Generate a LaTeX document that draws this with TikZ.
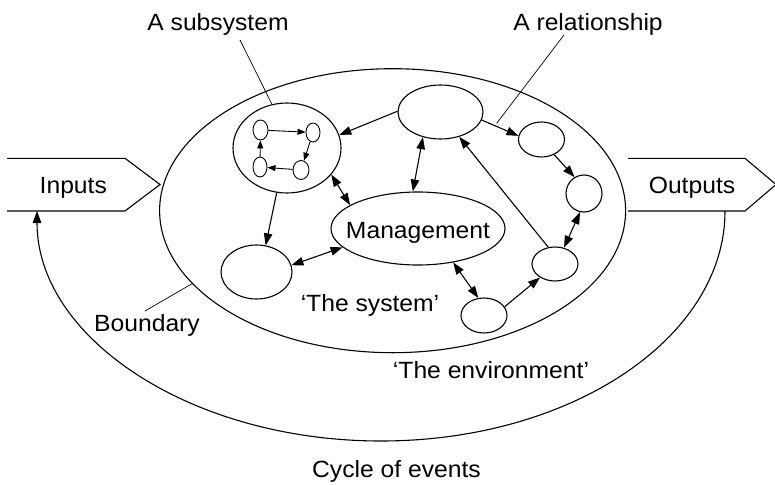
\documentclass[tikz,border=0pt]{standalone}
\usepackage{fontspec}
\setmainfont{Liberation Sans}[FakeStretch=1.05]
\usetikzlibrary{arrows.meta,shapes.geometric}
\begin{document}
\begin{tikzpicture}[x=1pt,y=-1pt,
  el/.style={draw,ellipse,inner sep=0pt,line width=1.1pt},
  conn/.style={line width=1.1pt,-{Triangle[length=12pt,width=8.5pt]}},
  dconn/.style={line width=1.1pt,{Triangle[length=12pt,width=8.5pt]}-{Triangle[length=12pt,width=8.5pt]}},
  smallconn/.style={line width=0.9pt,-{Triangle[length=8pt,width=6pt]}},
  leader/.style={line width=0.7pt},
  lbl/.style={font=\fontsize{23.5}{28}\selectfont,inner sep=0pt,anchor=base},
  boxline/.style={line width=1.1pt,line join=miter}]
\useasboundingbox (0,0) rectangle (775,484);

% system boundary
\node[el,minimum width=466pt,minimum height=284pt] (sys) at (392.6,210.7) {};

% inputs / outputs boxes
\draw[boxline] (7,158.3) -- (125,158.3) -- (160,184.5) -- (125,211) -- (7,211);
\draw[boxline] (628,158.3) -- (745,158.3) -- (776,184.5) -- (745,211) -- (628,211);
\node[lbl] (inputs) at (73.3,193.3) {Inputs};
\node[lbl] (outputs) at (692,193) {Outputs};
\coordinate (inbottom) at (37,211);
\coordinate (outbottom) at (725,211);

% cycle of events
\draw[conn] (outbottom) .. controls (725,338) and (571,441) .. (381,441)
  .. controls (191,441) and (37,338) .. (inbottom);

% subsystem
\node[el,minimum width=108pt,minimum height=90pt] (sub) at (287,148) {};
\node[el,line width=0.9pt,minimum width=15pt,minimum height=20pt] (tl) at (260.5,130) {};
\node[el,line width=0.9pt,minimum width=14pt,minimum height=19pt] (tr) at (313,132.5) {};
\node[el,line width=0.9pt,minimum width=14pt,minimum height=20pt] (bl) at (260,167) {};
\node[el,line width=0.9pt,minimum width=16pt,minimum height=19pt] (br) at (301,170) {};
\draw[smallconn] (tl) -- (tr);
\draw[smallconn] (tr) -- (br);
\draw[smallconn] (br) -- (bl);
\draw[smallconn] (bl) -- (tl);

% elements
\node[el,minimum width=85pt,minimum height=54pt] (A) at (440.5,112) {};
\node[el,minimum width=46pt,minimum height=35pt] (R1) at (541.5,139.5) {};
\node[el,minimum width=36pt,minimum height=37pt] (R2) at (584,193.5) {};
\node[el,minimum width=46pt,minimum height=34pt] (R3) at (555,264) {};
\node[el,minimum width=46pt,minimum height=35pt] (B) at (484,315.5) {};
\node[el,minimum width=71pt,minimum height=54pt] (L) at (256.5,272) {};
\node[el,minimum width=174pt,minimum height=73pt] (M) at (418,228.5) {};
\node[lbl] (mtext) at (418,238.3) {Management};

% connectors
\draw[conn] (A.179) -- (sub.14);
\draw[dconn] (A.235) -- (M.98);
\draw[conn] (A.-11) -- (R1.171);
\draw[conn] (R1.-50) -- (R2.120);
\draw[dconn] (R2.-102) -- (R3.61);
\draw[conn] (R3.112) -- (A.-53);
\draw[conn] (B.23) -- (R3.-138);
\draw[dconn] (M.-44) -- (B.108);
\draw[dconn] (M.-166) -- (L.11);
\draw[dconn] (sub.-31) -- (M.161);
\draw[conn] (sub.-103) -- (L.71);

% labels
\node[lbl] (lsub) at (218,30.7) {A subsystem};
\node[lbl] (lrel) at (588,30.7) {A relationship};
\node[lbl] (lsys) at (370,311.7) {‘The system’};
\node[lbl] (lbound) at (147,331.7) {Boundary};
\node[lbl] (lenv) at (491,378.3) {‘The environment’};
\node[lbl] (lcycle) at (396.5,477) {Cycle of events};

% leader lines
\coordinate (subleader) at (240,40);
\coordinate (relleader) at (564,35);
\coordinate (relend) at (496.7,123.3);
\coordinate (boundleader) at (145,311);
\draw[leader] (subleader) -- (sub.109);
\draw[leader] (relleader) -- (relend);
\draw[leader] (boundleader) -- (sys.200);
\end{tikzpicture}
\end{document}
